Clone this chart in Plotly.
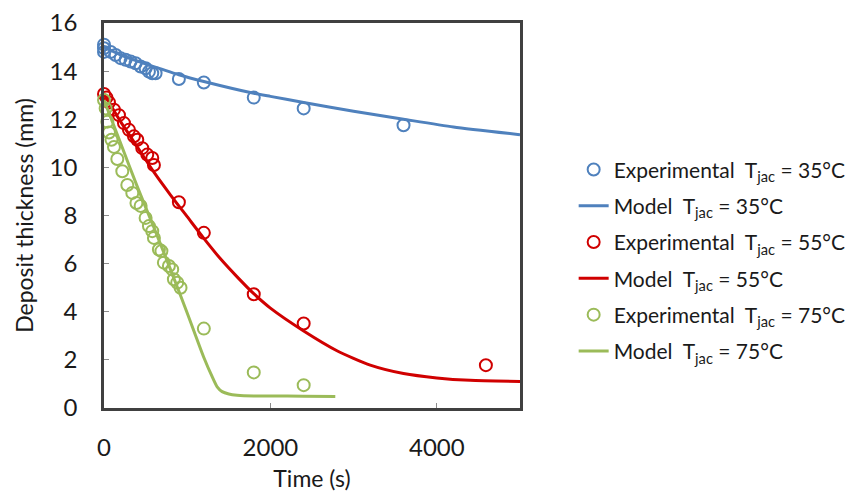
import plotly.graph_objects as go

# Experimental data
t_exp35 = [0, 0, 0, 80, 140, 200, 260, 320, 380, 440, 500, 540, 580, 620, 900, 1200, 1800, 2400, 3600]
d_exp35 = [15.1, 14.95, 14.8, 14.8, 14.67, 14.54, 14.47, 14.4, 14.33, 14.19, 14.12, 13.98, 13.91, 13.91, 13.67, 13.53, 12.9, 12.45, 11.75]

t_exp55 = [0, 30, 60, 120, 180, 240, 300, 360, 400, 460, 520, 580, 600, 900, 1200, 1800, 2400, 4590]
d_exp55 = [13.05, 12.9, 12.7, 12.4, 12.17, 11.84, 11.56, 11.29, 11.15, 10.8, 10.53, 10.39, 10.1, 8.55, 7.28, 4.73, 3.51, 1.78]

t_exp75 = [0, 20, 40, 60, 90, 120, 160, 220, 280, 340, 390, 440, 500, 540, 580, 600, 660, 690, 720, 780, 820, 840, 880, 920, 1200, 1800, 2400]
d_exp75 = [12.8, 12.45, 11.9, 11.45, 11.15, 10.85, 10.35, 9.84, 9.27, 8.94, 8.52, 8.4, 7.9, 7.56, 7.35, 7.07, 6.59, 6.52, 6.04, 5.9, 5.76, 5.35, 5.21, 5.0, 3.3, 1.48, 0.95]

# Model curves
t_mod35 = [0, 250, 500, 900, 1200, 1800, 2000, 2400, 3000, 3600, 4200, 5000]
d_mod35 = [15.0, 14.6, 14.3, 13.85, 13.57, 13.08, 12.95, 12.7, 12.33, 12.0, 11.68, 11.36]

t_mod55 = [0, 200, 400, 600, 800, 1000, 1200, 1400, 1600, 1800, 2000, 2400, 2800, 3200, 3600, 4000, 4400, 5000]
d_mod55 = [13.05, 11.9, 10.85, 9.8, 8.85, 7.95, 7.05, 6.2, 5.45, 4.75, 4.15, 3.2, 2.38, 1.78, 1.43, 1.25, 1.15, 1.1]

t_mod75 = [0, 200, 400, 600, 800, 1000, 1200, 1300, 1360, 1420, 1500, 1600, 1800, 2000, 2400, 2780]
d_mod75 = [12.8, 11.0, 9.2, 7.5, 5.75, 3.95, 2.1, 1.3, 0.88, 0.68, 0.58, 0.53, 0.5, 0.5, 0.49, 0.48]

x_ticks = [0, 2000, 4000]
y_ticks = [0, 2, 4, 6, 8, 10, 12, 14, 16]

BLUE = "#4F81BD"
RED = "#D00000"
GREEN = "#9BBB59"
FONT = "Lato"
SP = "\u00a0"

def exp_name(temp):
    return f"Experimental{SP} T<sub>jac</sub> = {temp}°C"

def mod_name(temp):
    return f"Model{SP} T<sub>jac</sub> = {temp}°C"

fig = go.Figure()
series = [
    (t_exp35, d_exp35, t_mod35, d_mod35, BLUE, 35),
    (t_exp55, d_exp55, t_mod55, d_mod55, RED, 55),
    (t_exp75, d_exp75, t_mod75, d_mod75, GREEN, 75),
]
gi = 0
for te, de, tm, dm, col, temp in series:
    fig.add_trace(go.Scatter(
        x=te, y=de, mode="markers", name=exp_name(temp),
        legendgroup=f"g{gi}",
        marker=dict(symbol="circle-open", size=12, color=col, line=dict(width=2, color=col)),
        cliponaxis=False,
    ))
    gi += 1
    fig.add_trace(go.Scatter(
        x=tm, y=dm, mode="lines", name=mod_name(temp),
        legendgroup=f"g{gi}",
        line=dict(color=col, width=3, shape="spline", smoothing=0.6),
    ))
    gi += 1

axis_common = dict(
    showgrid=False, zeroline=False, ticks="inside", ticklen=5, tickcolor="#8c8c8c",
    showline=True, linecolor="#404040", linewidth=2.5, mirror=True, automargin=False,
    ticklabeloverflow="allow",
    tickfont=dict(family=FONT, size=24, color="#1a1a1a"),
)

# The page body adds an 8px offset, so the figure is sized to the visible area.
fig.update_layout(
    template="none",
    width=855, height=492, autosize=False,
    margin=dict(l=96, r=340, t=15, b=92),
    paper_bgcolor="white", plot_bgcolor="white",
    font=dict(family=FONT, color="#1a1a1a"),
    xaxis=dict(range=[0, 5000], tickvals=x_ticks, ticklabelstandoff=16,
               title=dict(text="Time (s)", font=dict(family=FONT, size=23), standoff=12),
               **axis_common),
    yaxis=dict(range=[0, 16], tickvals=y_ticks, ticklabelstandoff=19,
               title=dict(text="Deposit thickness (mm)", font=dict(family=FONT, size=23), standoff=10),
               **axis_common),
    showlegend=True,
    legend=dict(x=1.129, xanchor="left", y=0.672, yanchor="top",
                font=dict(family=FONT, size=21, color="#1a1a1a"),
                traceorder="grouped", tracegroupgap=6,
                bgcolor="rgba(0,0,0,0)", borderwidth=0),
)

fig.write_html("out.html")
